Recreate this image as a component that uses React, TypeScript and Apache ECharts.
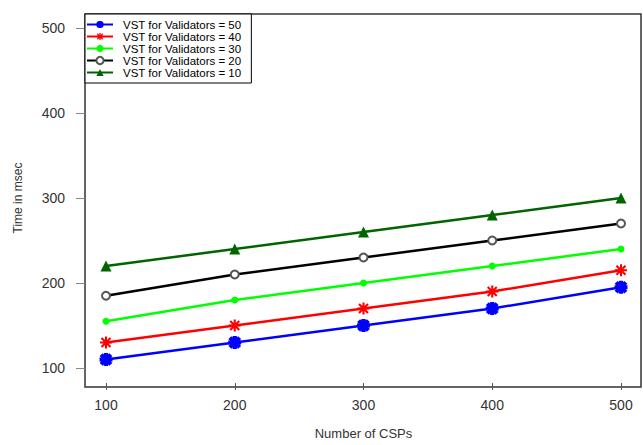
import React, { useEffect, useRef } from "react";
import * as echarts from "echarts";

const cspCounts = [100, 200, 300, 400, 500];
const seriesNames = [
  "VST for Validators = 50",
  "VST for Validators = 40",
  "VST for Validators = 30",
  "VST for Validators = 20",
  "VST for Validators = 10",
];
const v50 = [110, 130, 150, 170, 195];
const v40 = [130, 150, 170, 190, 215];
const v30 = [155, 180, 200, 220, 240];
const v20 = [185, 210, 230, 250, 270];
const v10 = [220, 240, 260, 280, 300];
const allValues = [v50, v40, v30, v20, v10];
const colors = ["#0000FF", "#FF0000", "#00FF00", "#000000", "#006400"];

function asterisk(t: number): string {
  const a = 10 - t / 2;
  const b = 10 + t / 2;
  const d = t / 2 / Math.SQRT2;
  const p = 2.5;
  const q = 17.5;
  return (
    "path://" +
    `M${a} 0L${b} 0L${b} 20L${a} 20Z` +
    `M0 ${a}L20 ${a}L20 ${b}L0 ${b}Z` +
    `M${p + d} ${p - d}L${q + d} ${q - d}L${q - d} ${q + d}L${p - d} ${p + d}Z` +
    `M${q - d} ${p - d}L${q + d} ${p + d}L${p + d} ${q + d}L${p - d} ${q - d}Z`
  );
}

const symbols = [asterisk(6.5), asterisk(3.5), "circle", "emptyCircle", "triangle"];
const symbolSizes = [13, 12, 7, 8, 11];

export default function App() {
  const ref = useRef<HTMLDivElement>(null);
  useEffect(() => {
    if (!ref.current) return;
    const chart = echarts.init(ref.current, undefined, { renderer: "svg" });
    const font = "Liberation Sans, Arial, Helvetica, sans-serif";
    chart.setOption({
      animation: false,
      backgroundColor: "#ffffff",
      textStyle: { fontFamily: font },
      grid: { left: 106, right: 22, top: 28, bottom: 73 },
      xAxis: {
        type: "value",
        min: 100,
        max: 500,
        interval: 100,
        offset: 15,
        name: "Number of CSPs",
        nameLocation: "middle",
        nameGap: 44,
        nameTextStyle: { fontSize: 13, color: "#333", fontFamily: font },
        axisLine: { show: false },
        axisTick: { show: true, length: 7, lineStyle: { color: "#555", width: 1 } },
        axisLabel: { margin: 15, fontSize: 14, color: "#333", fontFamily: font },
        splitLine: { show: false },
      },
      yAxis: {
        type: "value",
        min: 100,
        max: 500,
        interval: 100,
        offset: 21,
        name: "Time in msec",
        nameLocation: "middle",
        nameGap: 61,
        nameRotate: 90,
        nameTextStyle: { fontSize: 12, color: "#333", fontFamily: font },
        axisLine: { show: false },
        axisTick: { show: true, length: 9, lineStyle: { color: "#888", width: 1 } },
        axisLabel: { margin: 20, fontSize: 14, color: "#333", fontFamily: font },
        splitLine: { show: false },
      },
      legend: {
        orient: "vertical",
        left: 85,
        top: 14,
        padding: [4.5, 10, 4.5, 1],
        borderColor: "#000",
        borderWidth: 1,
        backgroundColor: "#fff",
        itemWidth: 26,
        itemHeight: 9,
        itemGap: 0,
        data: seriesNames,
        textStyle: {
          fontSize: 11.5,
          lineHeight: 11,
          color: "#000",
          fontFamily: font,
          padding: [0, 0, 0, 5],
        },
      },
      graphic: [
        {
          type: "rect",
          shape: { x: 85, y: 14, width: 556, height: 373 },
          style: { fill: "none", stroke: "#333", lineWidth: 1.5 },
          z: 0,
          silent: true,
        },
      ],
      series: allValues.map((vals, i) => ({
        name: seriesNames[i],
        type: "line",
        data: cspCounts.map((x, j) => [x, vals[j]]),
        symbol: symbols[i],
        symbolSize: symbolSizes[i],
        showSymbol: true,
        clip: false,
        lineStyle: { color: colors[i], width: 2.5 },
        itemStyle: {
          color: i === 3 ? "#555" : colors[i],
          borderColor: colors[i],
          borderWidth: i === 3 ? 3 : 0,
        },
        z: 3,
      })),
    });
    return () => chart.dispose();
  }, []);
  return (
    <div
      ref={ref}
      style={{ position: "fixed", left: 0, top: 0, width: 643, height: 445 }}
    />
  );
}
